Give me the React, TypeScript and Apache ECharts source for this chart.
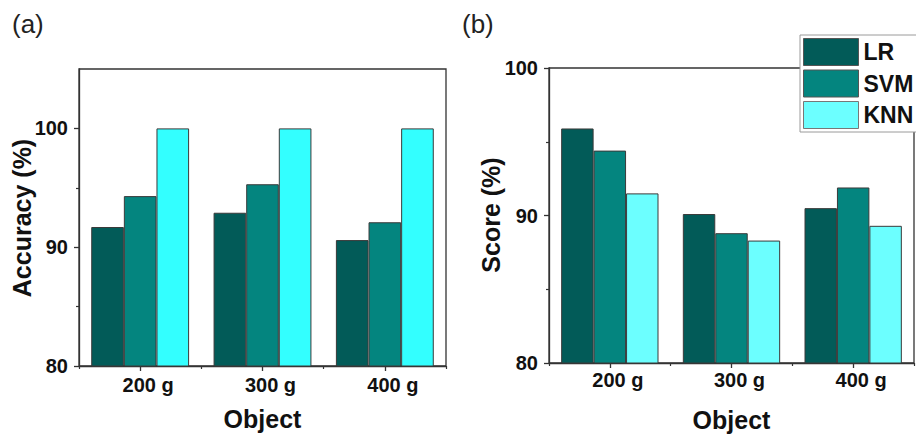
import React, { useEffect, useRef } from "react";
import * as echarts from "echarts";

const categories = ["200 g", "300 g", "400 g"];
const seriesNames = ["LR", "SVM", "KNN"];
const accuracyLR = [91.7, 92.9, 90.6];
const accuracySVM = [94.3, 95.3, 92.1];
const accuracyKNN = [100, 100, 100];
const scoreLR = [95.9, 90.1, 90.5];
const scoreSVM = [94.4, 88.8, 91.9];
const scoreKNN = [91.5, 88.3, 89.3];
const majorTicks = [80, 90, 100];
const minorTicks = [85, 95];

const FONT = "'Liberation Sans', Arial, sans-serif";
const COL_LR = "#025b58";
const COL_SVM = "#04857f";
const COL_KNN_A = "#33ffff";
const COL_KNN_B = "#6cffff";
const AXIS_COL = "#333";

function buildOption() {
  const grids = [
    { left: 79, top: 69, width: 367, height: 297 },
    { left: 549, top: 68, width: 365, height: 295 },
  ];
  const yMax = [105, 100];
  const xNameGap = [40, 44];
  const xLabelMargin = [9, 7];

  const xAxis: any[] = [];
  const yAxis: any[] = [];
  grids.forEach((_, i) => {
    xAxis.push({
      type: "category",
      gridIndex: i,
      position: "bottom",
      data: categories,
      boundaryGap: true,
      axisLine: { show: true, onZero: false, lineStyle: { color: AXIS_COL, width: 1.3 } },
      axisTick: { show: true, alignWithLabel: true, length: 5, lineStyle: { color: AXIS_COL, width: 1.3 } },
      axisLabel: {
        fontFamily: FONT,
        fontWeight: "bold",
        fontSize: 20,
        color: "#111",
        margin: xLabelMargin[i],
        padding: [0, 0, 0, 16],
      },
      name: "Object",
      nameLocation: "middle",
      nameGap: xNameGap[i],
      nameTextStyle: { fontFamily: FONT, fontWeight: "bold", fontSize: 25, color: "#111" },
      splitLine: { show: false },
    });
    xAxis.push({
      type: "category",
      gridIndex: i,
      position: "bottom",
      data: categories,
      boundaryGap: true,
      axisLine: { show: false, onZero: false },
      axisTick: { show: true, alignWithLabel: false, length: 3, lineStyle: { color: AXIS_COL, width: 1.2 } },
      axisLabel: { show: false },
      splitLine: { show: false },
    });
    yAxis.push({
      type: "value",
      gridIndex: i,
      position: "left",
      min: 80,
      max: yMax[i],
      interval: 10,
      axisLine: { show: true, onZero: false, lineStyle: { color: AXIS_COL, width: 1.3 } },
      axisTick: { show: true, length: 5, customValues: majorTicks, lineStyle: { color: AXIS_COL, width: 1.3 } },
      axisLabel: {
        showMaxLabel: yMax[i] === 100,
        fontFamily: FONT,
        fontWeight: "bold",
        fontSize: 20,
        color: "#111",
        margin: 11,
        formatter: (v: number) => (majorTicks.indexOf(v) >= 0 ? String(v) : ""),
      },
      splitLine: { show: false },
    });
    yAxis.push({
      type: "value",
      gridIndex: i,
      position: "left",
      min: 80,
      max: yMax[i],
      axisLine: { show: false, onZero: false },
      axisTick: { show: true, length: 3, customValues: minorTicks, lineStyle: { color: AXIS_COL, width: 1.2 } },
      axisLabel: { show: false },
      splitLine: { show: false },
    });
  });

  const barBase = (name: string, gi: number, data: number[], color: string) => ({
    type: "bar",
    name,
    xAxisIndex: gi * 2,
    yAxisIndex: gi * 2,
    data,
    barGap: "0%",
    barCategoryGap: "20%",
    itemStyle: { color, borderColor: "#3a3a3a", borderWidth: 1 },
  });

  const series = [
    barBase("LR", 0, accuracyLR, COL_LR),
    barBase("SVM", 0, accuracySVM, COL_SVM),
    barBase("KNN", 0, accuracyKNN, COL_KNN_A),
    barBase("LR", 1, scoreLR, COL_LR),
    barBase("SVM", 1, scoreSVM, COL_SVM),
    barBase("KNN", 1, scoreKNN, COL_KNN_B),
  ];

  const yTitle = (text: string, x: number, y: number) => ({
    type: "text",
    x,
    y,
    rotation: Math.PI / 2,
    style: {
      text,
      fontFamily: FONT,
      fontWeight: "bold",
      fontSize: 25,
      fill: "#111",
      align: "center",
      verticalAlign: "middle",
    },
  });

  return {
    animation: false,
    backgroundColor: "#fff",
    grid: grids.map((g) => ({
      ...g,
      show: true,
      borderColor: AXIS_COL,
      borderWidth: 1.3,
      backgroundColor: "transparent",
      outerBoundsMode: "none",
    })),
    xAxis,
    yAxis,
    series,
    legend: {
      orient: "vertical",
      left: 800,
      top: 35,
      z: 10,
      backgroundColor: "#fff",
      borderColor: "#9a9a9a",
      borderWidth: 1,
      padding: [3, 30, 3, 3],
      itemWidth: 55,
      itemHeight: 27,
      itemGap: 3.5,
      icon: "rect",
      selectedMode: false,
      textStyle: { fontFamily: FONT, fontWeight: "bold", fontSize: 23, color: "#111", lineHeight: 27 },
      data: seriesNames.map((n) =>
        n === "KNN"
          ? { name: n, itemStyle: { color: COL_KNN_B, borderColor: "#777", borderWidth: 1 } }
          : { name: n, itemStyle: { borderColor: "#555", borderWidth: 1 } }
      ),
    },
    graphic: [
      { type: "text", x: 12, y: 11, style: { text: "(a)", fontFamily: FONT, fontSize: 26, fill: "#222" } },
      { type: "text", x: 462, y: 11, style: { text: "(b)", fontFamily: FONT, fontSize: 26, fill: "#222" } },
      yTitle("Accuracy (%)", 22, 218),
      yTitle("Score (%)", 491, 215),
    ],
  };
}

export default function App() {
  const ref = useRef<HTMLDivElement>(null);
  useEffect(() => {
    if (!ref.current) return;
    const chart = echarts.init(ref.current, null, { renderer: "svg" });
    chart.setOption(buildOption() as any);
    return () => chart.dispose();
  }, []);
  return (
    <div
      ref={ref}
      style={{ position: "absolute", left: 0, top: 0, width: 916, height: 435, background: "#fff" }}
    />
  );
}
